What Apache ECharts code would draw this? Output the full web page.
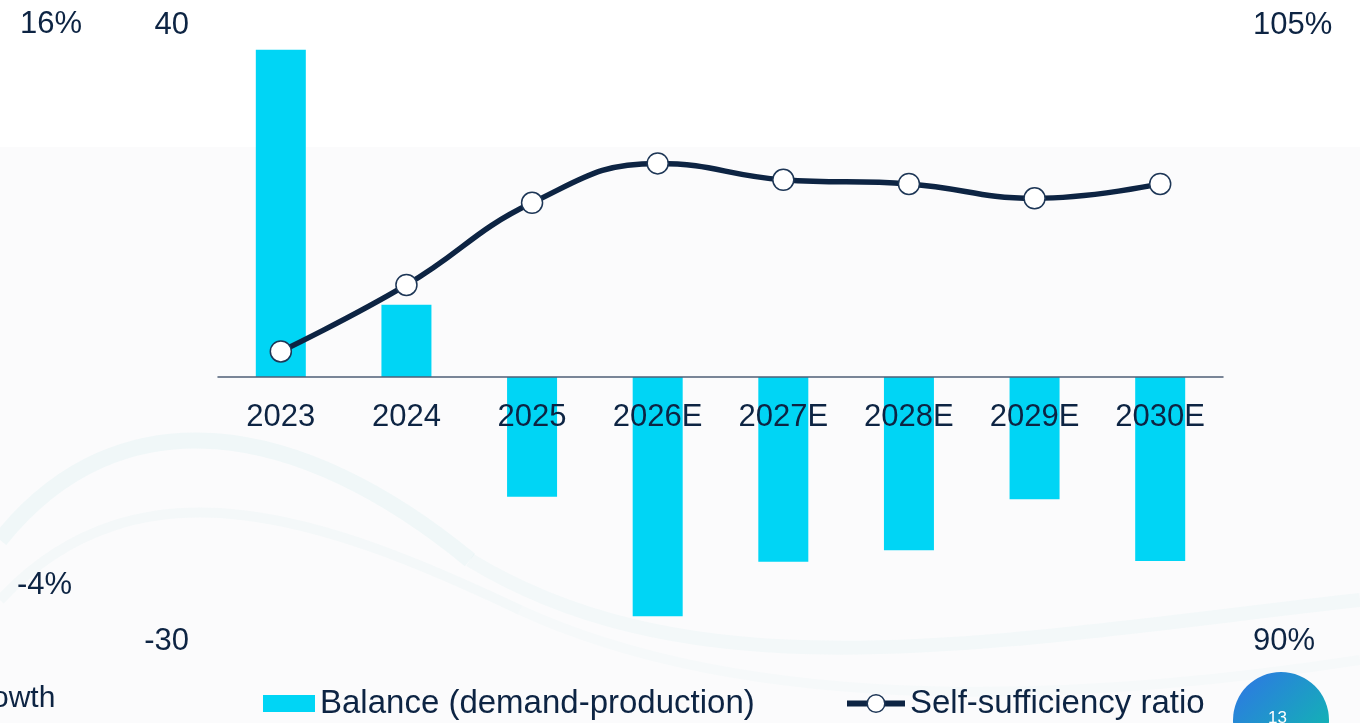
<!DOCTYPE html>
<html>
<head>
    <meta charset="utf-8">
    <title>Balance and self-sufficiency ratio</title>
    <script src="https://cdn.jsdelivr.net/npm/echarts@6/dist/echarts.min.js"></script>
    <style>
        html, body { margin: 0; padding: 0; background: #ffffff; }
    </style>
</head>
<body>
    <div id="chart" style="width: 1360px; height: 723px;"></div>

    <script>
    // values
    const years = ['2023', '2024', '2025', '2026E', '2027E', '2028E', '2029E', '2030E'];
    const balance = [37.2, 8.2, -13.6, -27.2, -21.0, -19.7, -13.9, -20.9];
    const selfSufficiency = [97.05, 98.67, 100.67, 101.63, 101.23, 101.13, 100.78, 101.13];
    const leftRange = [-30, 40];
    const rightRange = [90, 105];

    const navy = '#0d2443';
    const cyan = '#00d5f5';
    const font = '"Liberation Sans", Arial, sans-serif';

    const gridTop = 25, gridBottom = 82, chartH = 723;
    // x axis sits on the zero of the left axis
    const plotH = chartH - gridTop - gridBottom;
    const zeroShift = plotH * (0 - leftRange[0]) / (leftRange[1] - leftRange[0]);

    const chart = echarts.init(document.getElementById('chart'));

    // faint decorative wave in the slide background
    function wave(x1, y1, cx1, cy1, cx2, cy2, x2, y2, alpha, w) {
        return {
            type: 'bezierCurve', z: -9, silent: true,
            shape: { x1: x1, y1: y1, cpx1: cx1, cpy1: cy1, cpx2: cx2, cpy2: cy2, x2: x2, y2: y2 },
            style: { fill: 'none', stroke: 'rgba(120,205,200,' + alpha + ')', lineWidth: w }
        };
    }

    const option = {
        backgroundColor: '#ffffff',
        textStyle: { fontFamily: font, color: navy },
        graphic: [
            // light panel behind the lower part of the slide
            { type: 'rect', z: -10, silent: true, shape: { x: 0, y: 147, width: 1360, height: 576 }, style: { fill: '#fbfbfc' } },
            wave(0, 540, 120, 390, 300, 420, 470, 560, 0.08, 16),
            wave(470, 560, 700, 700, 1000, 640, 1360, 600, 0.06, 14),
            wave(0, 600, 140, 450, 330, 520, 520, 610, 0.05, 10),
            wave(520, 610, 760, 720, 1100, 700, 1360, 660, 0.04, 10),
            // text from the neighbouring chart that is cut off on the left
            { type: 'text', left: 20, top: 9, style: { text: '16%', font: '31px ' + font, fill: navy } },
            { type: 'text', left: 17, top: 570, style: { text: '-4%', font: '31px ' + font, fill: navy } },
            { type: 'text', left: -8, top: 684, style: { text: 'owth', font: '30px ' + font, fill: navy } },
            // page number badge
            { type: 'circle', shape: { cx: 1281, cy: 720, r: 48 },
              style: { fill: new echarts.graphic.LinearGradient(0, 0, 1, 1, [
                  { offset: 0, color: '#2f74e6' }, { offset: 1, color: '#0cc2a8' }]) } },
            { type: 'text', left: 1268, top: 710, style: { text: '13', font: '17px ' + font, fill: '#ffffff' } }
        ],
        legend: [
            {
                left: 263, top: 687, padding: 0,
                itemWidth: 52, itemHeight: 17,
                textStyle: { fontSize: 33, color: navy, fontFamily: font },
                data: [{ name: 'Balance (demand-production)', icon: 'rect' }]
            },
            {
                left: 844, top: 687, padding: 0,
                itemWidth: 58, itemHeight: 22,
                textStyle: { fontSize: 33, color: navy, fontFamily: font },
                data: [{
                    name: 'Self-sufficiency ratio',
                    lineStyle: { width: 6, color: navy },
                    itemStyle: { color: '#ffffff', borderColor: '#1d3656', borderWidth: 1.5 }
                }]
            }
        ],
        grid: {
            left: 218,
            right: 137,
            top: gridTop,
            bottom: gridBottom,
            containLabel: false
        },
        xAxis: {
            type: 'category',
            data: years,
            position: 'bottom',
            offset: -zeroShift,
            z: 5,
            axisLine: { show: true, onZero: false, lineStyle: { color: '#4f5f76', width: 1.5 } },
            axisTick: { show: false },
            axisLabel: { fontSize: 31, color: navy, margin: 25, fontFamily: font },
            splitLine: { show: false }
        },
        yAxis: [
            {
                type: 'value',
                position: 'left',
                min: leftRange[0],
                max: leftRange[1],
                interval: leftRange[1] - leftRange[0],
                axisLine: { show: false },
                axisTick: { show: false },
                splitLine: { show: false },
                axisLabel: { fontSize: 31, color: navy, margin: 29, fontFamily: font }
            },
            {
                type: 'value',
                position: 'right',
                min: rightRange[0],
                max: rightRange[1],
                interval: rightRange[1] - rightRange[0],
                axisLine: { show: false },
                axisTick: { show: false },
                splitLine: { show: false },
                axisLabel: { fontSize: 31, color: navy, margin: 30, fontFamily: font, formatter: '{value}%' }
            }
        ],
        series: [
            {
                name: 'Balance (demand-production)',
                type: 'bar',
                yAxisIndex: 0,
                barWidth: 50,
                itemStyle: { color: cyan },
                data: balance,
                z: 2
            },
            {
                name: 'Self-sufficiency ratio',
                type: 'line',
                yAxisIndex: 1,
                smooth: 0.45,
                symbol: 'circle',
                symbolSize: 21,
                lineStyle: { color: navy, width: 5.5 },
                itemStyle: { color: '#ffffff', borderColor: '#1d3656', borderWidth: 1.5 },
                data: selfSufficiency,
                z: 3
            }
        ],
        animation: false
    };

    chart.setOption(option);
    </script>
</body>
</html>
